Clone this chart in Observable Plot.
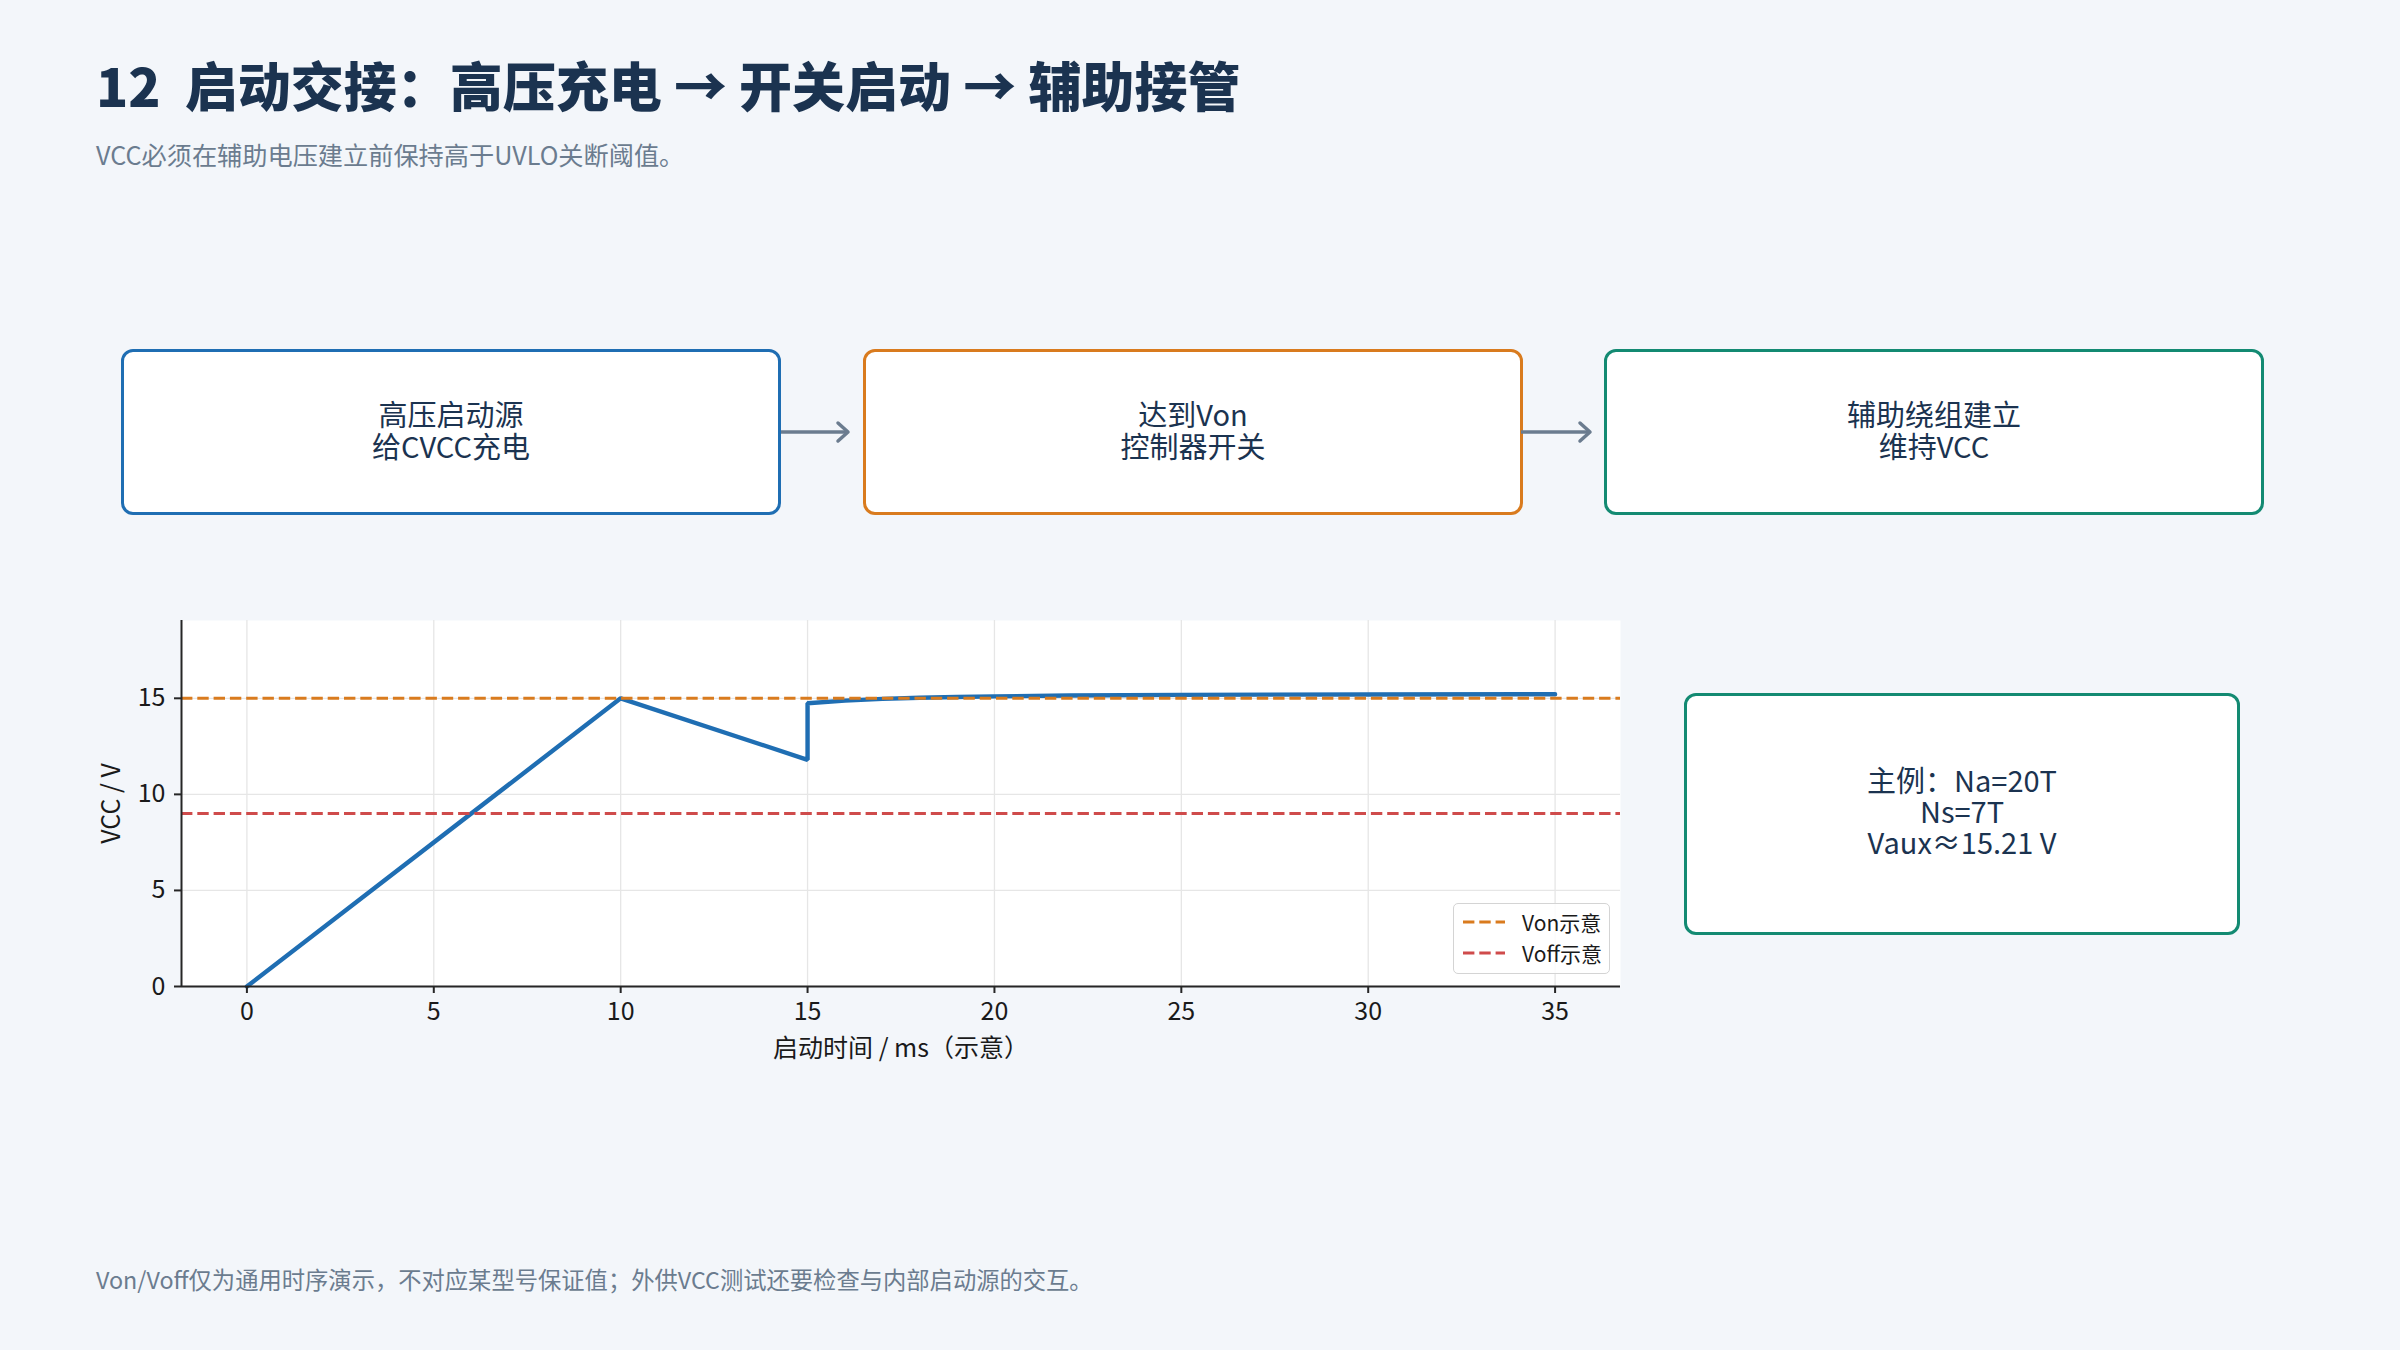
<!DOCTYPE html>
<html>
<head>
<meta charset="utf-8">
<script src="https://cdn.jsdelivr.net/npm/d3@7"></script>
<script src="https://cdn.jsdelivr.net/npm/@observablehq/plot@0.6"></script>
<style>
  html, body { margin: 0; padding: 0; background: #f3f6fa; }
  #page {
    position: relative; width: 2400px; height: 1350px; overflow: hidden;
    background: #f3f6fa;
    font-family: "Noto Sans CJK SC", "Noto Sans", sans-serif;
    color: #1b3350;
  }
  .title {
    position: absolute; left: 96px; top: 58px;
    font-size: 53px; line-height: 53px; font-weight: 900; white-space: pre;
    color: #1b3350;
  }
  .subtitle {
    position: absolute; left: 96px; top: 141px;
    font-size: 25.2px; line-height: 27px; color: #6b7c8f; white-space: pre;
  }
  .footer {
    position: absolute; left: 96px; top: 1266px;
    font-size: 23.3px; line-height: 26px; color: #6b7c8f; white-space: pre;
  }
  .stage, .note {
    position: absolute; box-sizing: border-box; background: #fff;
    border-radius: 12px; border: 3.5px solid;
    display: flex; align-items: center; justify-content: center; text-align: center;
    font-size: 29px; color: #1b3350;
  }
  .stage { padding-bottom: 6px; }
  .stage div { line-height: 32px; }
  .note { padding-bottom: 8px; }
  .note div { line-height: 31px; }
  #arrows { position: absolute; left: 0; top: 0; pointer-events: none; }
  #chart { position: absolute; left: 0; top: 560px; }
  .legend {
    position: absolute; left: 1453px; top: 903px; width: 157px; height: 71px;
    box-sizing: border-box; background: rgba(255,255,255,0.85);
    border: 1.5px solid #d4d4d4; border-radius: 5px;
    font-size: 21px; color: #1a1a1a;
  }
  .legend .row { position: absolute; left: 0; height: 30px; display: flex; align-items: center; }
  .legend svg { margin-left: 9px; }
  .legend span { margin-left: 17px; white-space: pre; }
</style>
</head>
<body>
<div id="page"></div>
<script>
// ---- text and data ----
const titleText = "12  启动交接：高压充电 → 开关启动 → 辅助接管";
const subtitleText = "VCC必须在辅助电压建立前保持高于UVLO关断阈值。";
const footerText = "Von/Voff仅为通用时序演示，不对应某型号保证值；外供VCC测试还要检查与内部启动源的交互。";

const stageLines = [
  ["高压启动源", "给CVCC充电"],
  ["达到Von", "控制器开关"],
  ["辅助绕组建立", "维持VCC"]
];
const stageColors = ["#1f6eb3", "#d97b1e", "#138a72"];

const noteLines = ["主例：Na=20T", "Ns=7T", "Vaux≈15.21 V"];

// VCC waveform: charge ramp, droop after Von, auxiliary takeover
const timeMs   = [0, 10, 15, 15, 16, 17, 18, 19, 20, 22, 25, 30, 35];
const vccVolts = [0, 15, 11.8, 14.74, 14.88, 14.97, 15.03, 15.07, 15.10, 15.15, 15.18, 15.20, 15.21];

const vOn = 15;
const vOff = 9;
const legendLabels = ["Von示意", "Voff示意"];
const legendColors = ["#d97b1e", "#cf4b4b"];

const xTicks = [0, 5, 10, 15, 20, 25, 30, 35];
const yTicks = [0, 5, 10, 15];
const xLabel = "启动时间 / ms（示意）";
const yLabel = "VCC / V";

// ---- page layout ----
const page = document.getElementById("page");
function addDiv(cls, text) {
  const d = document.createElement("div");
  d.className = cls;
  d.textContent = text;
  page.appendChild(d);
  return d;
}
addDiv("title", titleText);
addDiv("subtitle", subtitleText);
addDiv("footer", footerText);

// one multi-line text block per box
function multiline(lines) {
  return `<div>${lines.join("<br>")}</div>`;
}

const stageLeft = [121, 863, 1604];
stageLines.forEach((lines, i) => {
  const d = document.createElement("div");
  d.className = "stage";
  Object.assign(d.style, {
    left: stageLeft[i] + "px", top: "349px", width: "660px", height: "166px",
    borderColor: stageColors[i]
  });
  d.innerHTML = multiline(lines);
  page.appendChild(d);
});

// connector arrows between the stages
const ns = "http://www.w3.org/2000/svg";
const arrows = document.createElementNS(ns, "svg");
arrows.setAttribute("id", "arrows");
arrows.setAttribute("width", 2400);
arrows.setAttribute("height", 600);
[[781, 848], [1521, 1590]].forEach(([x0, x1]) => {
  const y = 432;
  const line = document.createElementNS(ns, "path");
  line.setAttribute("d", `M${x0},${y}H${x1 - 2}`);
  line.setAttribute("stroke", "#6b7c8f");
  line.setAttribute("stroke-width", 3.5);
  line.setAttribute("fill", "none");
  arrows.appendChild(line);
  const head = document.createElementNS(ns, "path");
  head.setAttribute("d", `M${x1 - 10},${y - 9}L${x1},${y}L${x1 - 10},${y + 9}`);
  head.setAttribute("stroke", "#6b7c8f");
  head.setAttribute("stroke-width", 3.5);
  head.setAttribute("fill", "none");
  head.setAttribute("stroke-linecap", "round");
  head.setAttribute("stroke-linejoin", "round");
  arrows.appendChild(head);
});
page.appendChild(arrows);

// ---- VCC chart ----
const series = timeMs.map((t, i) => ({t, v: vccVolts[i]}));
const tPad = 0.05 * (d3.max(timeMs) - d3.min(timeMs));
const xDomain = [d3.min(timeMs) - tPad, d3.max(timeMs) + tPad];
const yDomain = [0, 19.05];
const axisColor = "#262626";
const dash = "11.4,4.9";
const labelFont = 25;

const chart = Plot.plot({
  width: 1700,
  height: 540,
  marginLeft: 181,
  marginRight: 80,
  marginTop: 60,
  marginBottom: 114,
  x: {domain: xDomain},
  y: {domain: yDomain},
  style: {
    background: "transparent",
    fontFamily: '"Noto Sans CJK SC", "Noto Sans", sans-serif',
    fontSize: labelFont + "px",
    color: "#1a1a1a",
    overflow: "visible"
  },
  marks: [
    Plot.frame({fill: "white", stroke: null}),
    Plot.gridX(xTicks, {stroke: "#e6e6e6", strokeOpacity: 1, strokeWidth: 1.3}),
    Plot.gridY(yTicks, {stroke: "#e6e6e6", strokeOpacity: 1, strokeWidth: 1.3}),
    Plot.line(series, {x: "t", y: "v", stroke: "#1f6eb3", strokeWidth: 4.4, strokeLinejoin: "miter"}),
    Plot.ruleY([vOn], {stroke: legendColors[0], strokeWidth: 3, strokeDasharray: dash}),
    Plot.ruleY([vOff], {stroke: legendColors[1], strokeWidth: 3, strokeDasharray: dash}),
    Plot.ruleX([xDomain[0]], {stroke: axisColor, strokeWidth: 2}),
    Plot.ruleY([yDomain[0]], {stroke: axisColor, strokeWidth: 2}),
    Plot.axisX(xTicks, {tickSize: 7, tickPadding: 9, label: null, stroke: axisColor, strokeWidth: 2, fontSize: labelFont}),
    Plot.axisY(yTicks, {tickSize: 7, tickPadding: 9, label: null, stroke: axisColor, strokeWidth: 2, fontSize: labelFont}),
    Plot.text([xLabel], {text: d => d, frameAnchor: "bottom", dy: 70, fontSize: labelFont, fill: "#1a1a1a"}),
    Plot.text([yLabel], {text: d => d, frameAnchor: "left", rotate: -90, dx: -70, textAnchor: "middle", fontSize: labelFont, fill: "#1a1a1a"})
  ]
});
chart.id = "chart";
page.appendChild(chart);

// legend for the threshold lines
const legend = document.createElement("div");
legend.className = "legend";
legendLabels.forEach((label, i) => {
  const row = document.createElement("div");
  row.className = "row";
  row.style.top = (i === 0 ? 3 : 34) + "px";
  row.innerHTML = `<svg width="42" height="6"><line x1="0" y1="3" x2="42" y2="3" stroke="${legendColors[i]}" stroke-width="3" stroke-dasharray="${dash}"/></svg><span>${label}</span>`;
  legend.appendChild(row);
});
page.appendChild(legend);

// parameter note
const note = document.createElement("div");
note.className = "note";
Object.assign(note.style, {
  left: "1684px", top: "693px", width: "556px", height: "242px",
  borderColor: stageColors[2]
});
note.innerHTML = multiline(noteLines);
page.appendChild(note);
</script>
</body>
</html>
